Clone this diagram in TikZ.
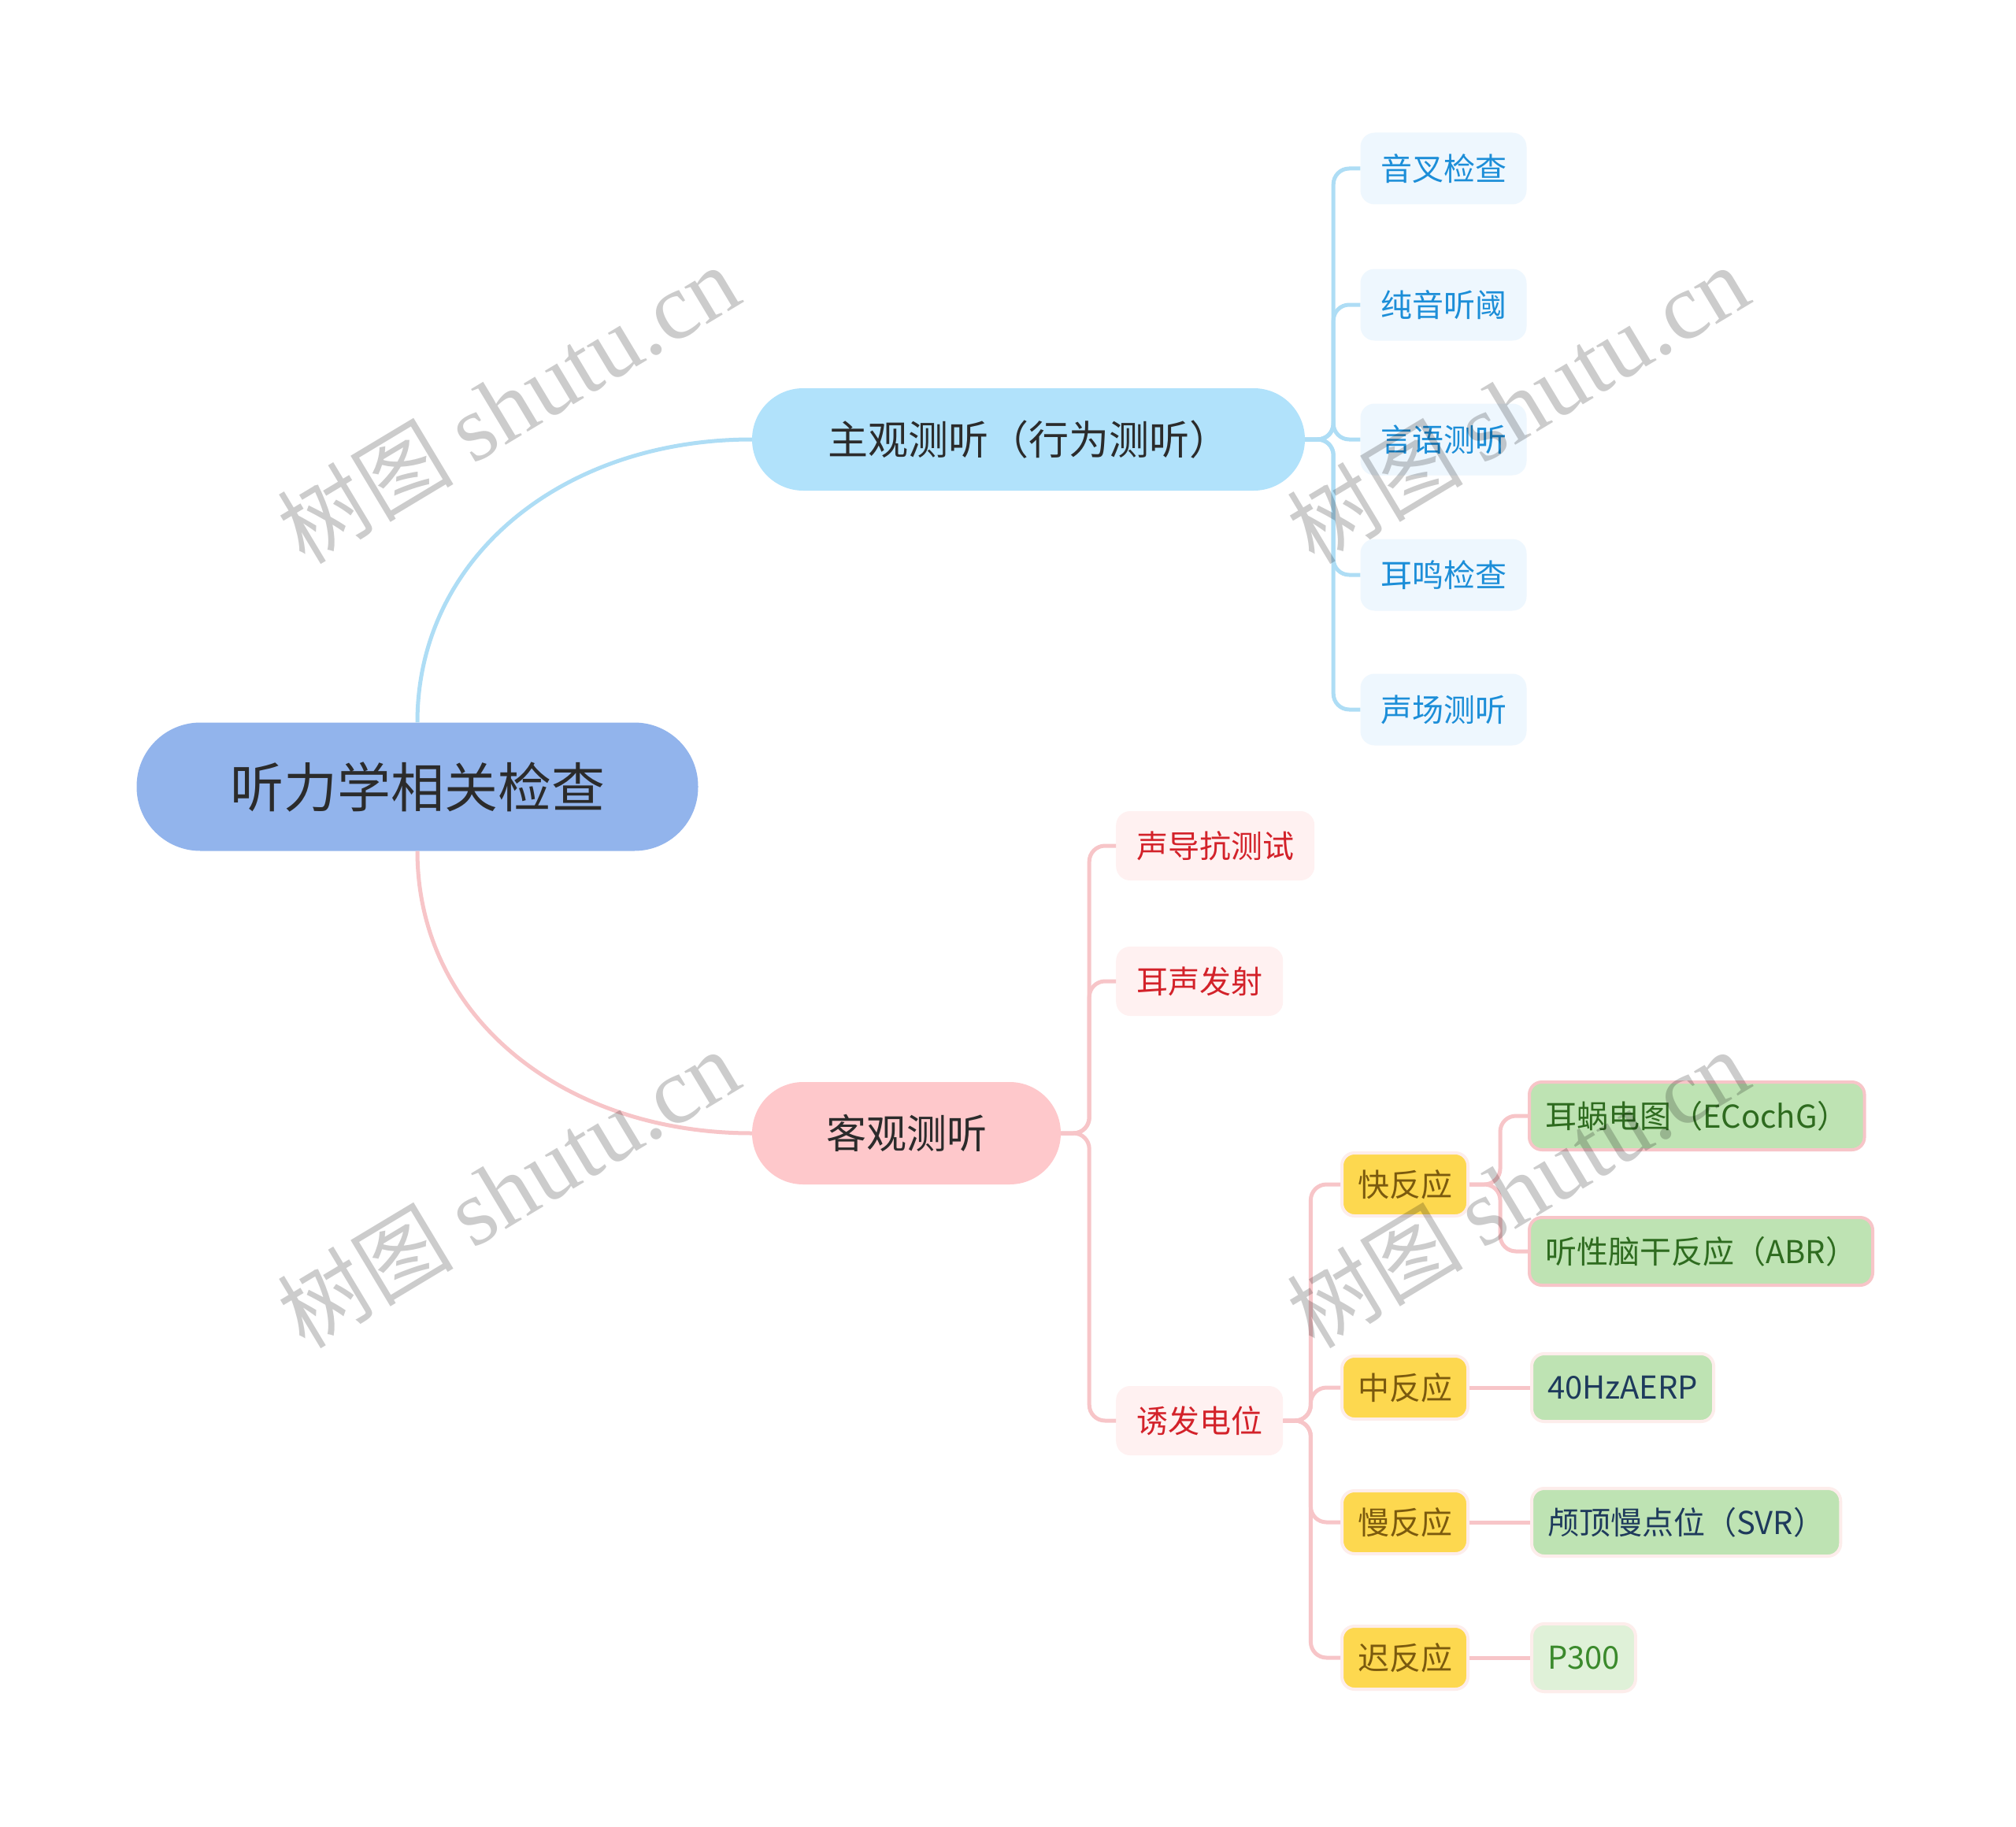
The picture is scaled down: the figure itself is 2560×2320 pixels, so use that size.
\documentclass[tikz,border=0pt]{standalone}
\usepackage{fontspec}
\newfontfamily\cjk{Noto Sans CJK SC}
\newfontfamily\wmserif{Liberation Serif}
\definecolor{rootfill}{HTML}{92B4EC}
\definecolor{darktext}{HTML}{2B2B2B}
\definecolor{bluecon}{HTML}{AEDDF5}
\definecolor{bfill}{HTML}{B1E2FB}
\definecolor{bluechildfill}{HTML}{EEF7FE}
\definecolor{bluetext}{HTML}{1C8ED8}
\definecolor{pinkcon}{HTML}{F7C5C8}
\definecolor{pfill}{HTML}{FEC8CB}
\definecolor{pinkchildfill}{HTML}{FFF1F1}
\definecolor{redtext}{HTML}{D3222A}
\definecolor{yellowfill}{HTML}{FDD84F}
\definecolor{browntext}{HTML}{7B5A0E}
\definecolor{faintpink}{HTML}{FDEDEB}
\definecolor{greenfill}{HTML}{BEE3B3}
\definecolor{greentext}{HTML}{2E6B1F}
\definecolor{navytext}{HTML}{1E3A5C}
\definecolor{lightgreen}{HTML}{DFF1D8}
\definecolor{p300text}{HTML}{3B8A2C}
\begin{document}
\begin{tikzpicture}[x=1pt,y=-1pt,
  rootbox/.style={fill=rootfill, rounded corners=81pt, minimum width=713pt, minimum height=163pt, inner sep=0pt, text=darktext, font=\cjk\fontsize{68}{80}\selectfont},
  mainbox/.style={rounded corners=65pt, minimum height=130pt, inner sep=0pt, text=darktext, font=\cjk\fontsize{51}{60}\selectfont},
  bluechild/.style={fill=bluechildfill, text=bluetext, rounded corners=18pt, minimum height=91pt, minimum width=211pt, inner sep=0pt, font=\cjk\fontsize{40}{48}\selectfont},
  pinkchild/.style={fill=pinkchildfill, text=redtext, rounded corners=18pt, minimum height=88pt, inner xsep=26pt, inner ysep=0pt, anchor=west, font=\cjk\fontsize{40}{48}\selectfont},
  yellowbox/.style={fill=yellowfill, draw=faintpink, line width=4pt, text=browntext, rounded corners=16pt, minimum width=160pt, minimum height=80pt, inner sep=0pt, font=\cjk\fontsize{40}{48}\selectfont},
  greenbox/.style={fill=greenfill, draw=faintpink, line width=4pt, text=navytext, rounded corners=16pt, minimum height=86pt, inner xsep=20pt, inner ysep=0pt, anchor=west, font=\cjk\fontsize{40}{48}\selectfont},
  bcon/.style={draw=bluecon, line width=5pt, rounded corners=20pt},
  pcon/.style={draw=pinkcon, line width=5pt, rounded corners=20pt},
  wm/.style={text=black, text opacity=0.2, rotate=31, inner sep=0pt}
]
\useasboundingbox[fill=white] (0,0) rectangle (2560,2320);

% root and main branches
\node[rootbox] (root) at (530,999) {听力学相关检查};
\node[mainbox, fill=bfill, minimum width=702pt] (b1) at (1306,558) {主观测听（行为测听）};
\node[mainbox, fill=pfill, minimum width=392pt] (b2) at (1151,1439) {客观测听};

% subjective children
\node[bluechild] (s1) at (1833,214) {音叉检查};
\node[bluechild] (s2) at (1833,387) {纯音听阈};
\node[bluechild] (s3) at (1833,558) {言语测听};
\node[bluechild] (s4) at (1833,730) {耳鸣检查};
\node[bluechild] (s5) at (1833,901) {声场测听};

% objective children
\node[pinkchild] (o1) at (1417,1074) {声导抗测试};
\node[pinkchild] (o2) at (1417,1246) {耳声发射};
\node[pinkchild] (o3) at (1417,1804) {诱发电位};

% evoked potential children
\node[yellowbox] (e1) at (1784,1504) {快反应};
\node[yellowbox] (e2) at (1784,1762) {中反应};
\node[yellowbox] (e3) at (1784,1933) {慢反应};
\node[yellowbox] (e4) at (1784,2105) {迟反应};

% leaves
\node[greenbox, draw=pinkcon, text=greentext] (g1) at (1940,1417) {耳蜗电图（ECochG）};
\node[greenbox, draw=pinkcon, text=greentext] (g2) at (1940,1589) {听性脑干反应（ABR）};
\node[greenbox] (g3) at (1943,1762) {40HzAERP};
\node[greenbox] (g4) at (1943,1933) {颅顶慢点位（SVR）};
\node[greenbox, fill=lightgreen, text=p300text] (g5) at (1943,2105) {P300};

% connectors
\draw[bcon] (root.north) .. controls +(0,-210) and +(-240,0) .. (b1.west);
\draw[pcon] (root.south) .. controls +(0,210) and +(-240,0) .. (b2.west);

\foreach \c in {s1,s2,s3,s4,s5}
  \draw[bcon] (b1.east) -- ++(36,0) |- (\c.west);
\foreach \c in {o1,o2,o3}
  \draw[pcon] (b2.east) -- ++(36,0) |- (\c.west);
\foreach \c in {e1,e2,e3,e4}
  \draw[pcon] (o3.east) -- ++(35,0) |- (\c.west);
\foreach \c in {g1,g2}
  \draw[pcon] (e1.east) -- ++(39,0) |- (\c.west);
\draw[pcon] (e2.east) -- (g3.west);
\draw[pcon] (e3.east) -- (g4.west);
\draw[pcon] (e4.east) -- (g5.west);

% watermarks
\foreach \p/\n in {{(645,514)}/w1,{(1927,514)}/w2,{(645,1510)}/w3,{(1927,1510)}/w4}
  \node[wm] (\n) at \p {\cjk\fontsize{112}{120}\selectfont 树图 \wmserif\fontsize{120}{125}\selectfont shutu.cn};
\end{tikzpicture}
\end{document}
